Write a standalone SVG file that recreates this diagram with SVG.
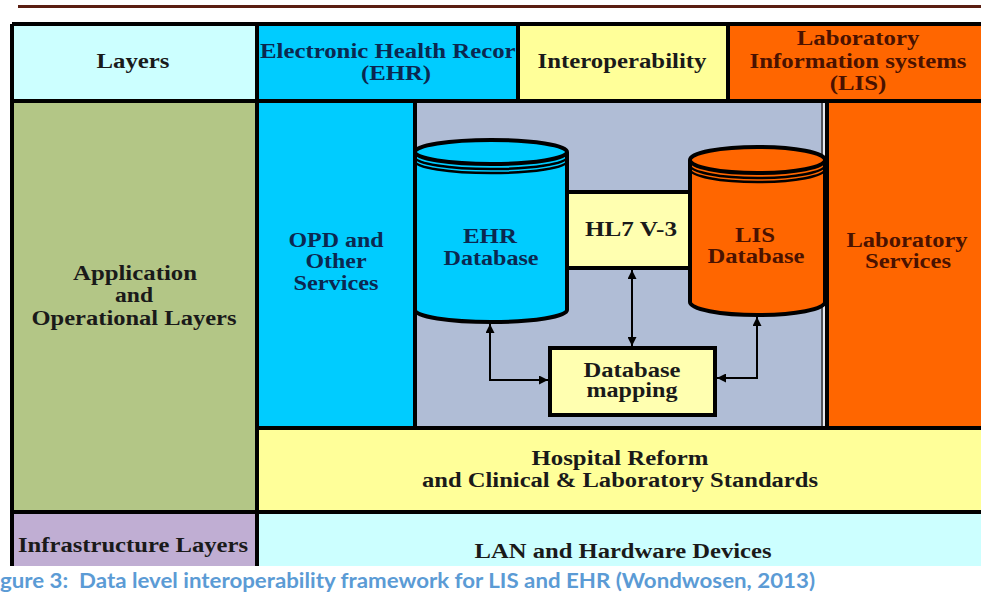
<svg xmlns="http://www.w3.org/2000/svg" width="981" height="596" viewBox="0 0 981 596">
<defs>
<style>
.t{font-family:'Liberation Serif','Times New Roman',serif;font-weight:bold;font-size:20px;text-anchor:middle;fill:#1a1a1a}
.navy{fill:#0b2850}
.brown{fill:#4a1200}
.frame{stroke:#000;stroke-width:4;fill:none}
.box{stroke:#000;stroke-width:4}
.rim{stroke:#000;stroke-width:2.5;fill:none}
.con{stroke:#000;stroke-width:2;fill:none}
.cap{font-family:Lato,'Liberation Sans',sans-serif;font-weight:bold;font-size:20px;fill:#5b9bd5}
</style>
<marker id="ah" viewBox="0 0 10 10" refX="10" refY="5" markerWidth="11" markerHeight="9" markerUnits="userSpaceOnUse" orient="auto-start-reverse">
<path d="M0,0 L10,5 L0,10 z" fill="#000"/>
</marker>
<clipPath id="clipEhr"><rect x="259" y="26" width="257" height="73"/></clipPath>
</defs>
<rect x="0" y="0" width="981" height="596" fill="#fff"/>
<line x1="18" y1="6.5" x2="981" y2="6.5" stroke="#5a1e12" stroke-width="3"/>

<g id="layers-header">
<rect x="12" y="24" width="245" height="77" fill="#ccffff"/>
<text class="t" transform="translate(133,68) scale(1.24,1)">Layers</text>
</g>
<g id="ehr-header">
<rect x="257" y="24" width="261" height="77" fill="#00ccff"/>
<g clip-path="url(#clipEhr)"><text class="t navy" style="text-anchor:start" transform="translate(260,58) scale(1.24,1)">Electronic Health Recor</text></g>
<text class="t navy" transform="translate(396,80) scale(1.24,1)">(EHR)</text>
</g>
<g id="interop-header">
<rect x="518" y="24" width="210" height="77" fill="#ffff99"/>
<text class="t" transform="translate(622,68) scale(1.24,1)">Interoperability</text>
</g>
<g id="lis-header">
<rect x="728" y="24" width="253" height="77" fill="#ff6600"/>
<text class="t brown" transform="translate(858,45) scale(1.24,1)">Laboratory</text>
<text class="t brown" transform="translate(858,68) scale(1.24,1)">Information systems</text>
<text class="t brown" transform="translate(858,90) scale(1.24,1)">(LIS)</text>
</g>
<g id="app-layers">
<rect x="12" y="101" width="245" height="411" fill="#b3c686"/>
<text class="t" x="135" y="280" textLength="124" lengthAdjust="spacingAndGlyphs">Application</text>
<text class="t" x="134" y="302" textLength="38" lengthAdjust="spacingAndGlyphs">and</text>
<text class="t" x="134" y="325" textLength="205" lengthAdjust="spacingAndGlyphs">Operational Layers</text>
</g>
<g id="opd-services">
<rect x="257" y="101" width="158" height="327" fill="#00ccff"/>
<text class="t navy" x="336" y="247" textLength="95" lengthAdjust="spacingAndGlyphs">OPD and</text>
<text class="t navy" x="336" y="268" textLength="61" lengthAdjust="spacingAndGlyphs">Other</text>
<text class="t navy" x="336" y="290" textLength="85" lengthAdjust="spacingAndGlyphs">Services</text>
</g>
<g id="interop-area">
<rect x="415" y="101" width="408" height="327" fill="#b0bdd6"/>
<rect x="823" y="101" width="3" height="327" fill="#e6e8ee"/>
<line x1="822" y1="101" x2="822" y2="428" stroke="#333" stroke-width="1.5"/>
</g>
<g id="lab-services">
<rect x="827" y="101" width="154" height="327" fill="#ff6600"/>
<text class="t brown" x="907" y="247" textLength="121" lengthAdjust="spacingAndGlyphs">Laboratory</text>
<text class="t brown" x="908" y="268" textLength="86" lengthAdjust="spacingAndGlyphs">Services</text>
</g>
<g id="standards">
<rect x="257" y="428" width="724" height="84" fill="#ffff99"/>
<text class="t" transform="translate(620,465) scale(1.24,1)">Hospital Reform</text>
<text class="t" x="620" y="487" textLength="396" lengthAdjust="spacingAndGlyphs">and Clinical &amp; Laboratory Standards</text>
</g>
<g id="infrastructure">
<rect x="12" y="512" width="245" height="54" fill="#c0aed3"/>
<text class="t" x="133" y="552" textLength="230" lengthAdjust="spacingAndGlyphs">Infrastructure Layers</text>
</g>
<g id="lan">
<rect x="257" y="512" width="724" height="54" fill="#ccffff"/>
<text class="t" x="623" y="558" textLength="297" lengthAdjust="spacingAndGlyphs">LAN and Hardware Devices</text>
</g>

<g id="grid">
<path class="frame" d="M12,24 H981 M12,24 V566 M12,101 H981 M257,24 V566 M518,24 V101 M728,24 V101 M415,101 V428 M827,101 V428 M257,428 H981 M12,512 H981"/>
</g>

<g id="hl7">
<rect class="box" x="567" y="192" width="124" height="76" fill="#ffffb0"/>
<text class="t" x="631" y="236" textLength="92" lengthAdjust="spacingAndGlyphs">HL7 V-3</text>
</g>
<g id="ehr-db">
<path class="box" d="M415,152 V310 A76,12 0 0 0 567,310 V152" fill="#00ccff"/>
<ellipse class="box" cx="491" cy="152" rx="76" ry="12" fill="#00ccff"/>
<path class="rim" d="M415,157 A76,12 0 0 0 567,157 M415,161 A76,12 0 0 0 567,161"/>
<text class="t navy" x="490" y="243" textLength="54" lengthAdjust="spacingAndGlyphs">EHR</text>
<text class="t navy" x="491" y="265" textLength="95" lengthAdjust="spacingAndGlyphs">Database</text>
</g>
<g id="lis-db">
<path class="box" d="M690,160 V302 A67.5,13 0 0 0 825,302 V160" fill="#ff6600"/>
<ellipse class="box" cx="757.5" cy="160" rx="67.5" ry="13" fill="#ff6600"/>
<path class="rim" d="M690,165 A67.5,13 0 0 0 825,165 M690,169 A67.5,13 0 0 0 825,169"/>
<text class="t brown" x="755" y="242" textLength="40" lengthAdjust="spacingAndGlyphs">LIS</text>
<text class="t brown" x="756" y="263" textLength="97" lengthAdjust="spacingAndGlyphs">Database</text>
</g>
<g id="db-mapping">
<rect class="box" x="550" y="348" width="165" height="67" fill="#ffffb0"/>
<text class="t" x="632" y="377" textLength="97" lengthAdjust="spacingAndGlyphs">Database</text>
<text class="t" x="632" y="397" textLength="91" lengthAdjust="spacingAndGlyphs">mapping</text>
</g>

<g id="connectors">
<path class="con" d="M632,270 V346" marker-start="url(#ah)" marker-end="url(#ah)"/>
<path class="con" d="M490,324 V380 H548" marker-start="url(#ah)" marker-end="url(#ah)"/>
<path class="con" d="M757,317 V378 H717" marker-start="url(#ah)" marker-end="url(#ah)"/>
</g>

<text class="cap" x="0" y="588" xml:space="preserve" textLength="815" lengthAdjust="spacingAndGlyphs">gure 3:  Data level interoperability framework for LIS and EHR (Wondwosen, 2013)</text>
</svg>
